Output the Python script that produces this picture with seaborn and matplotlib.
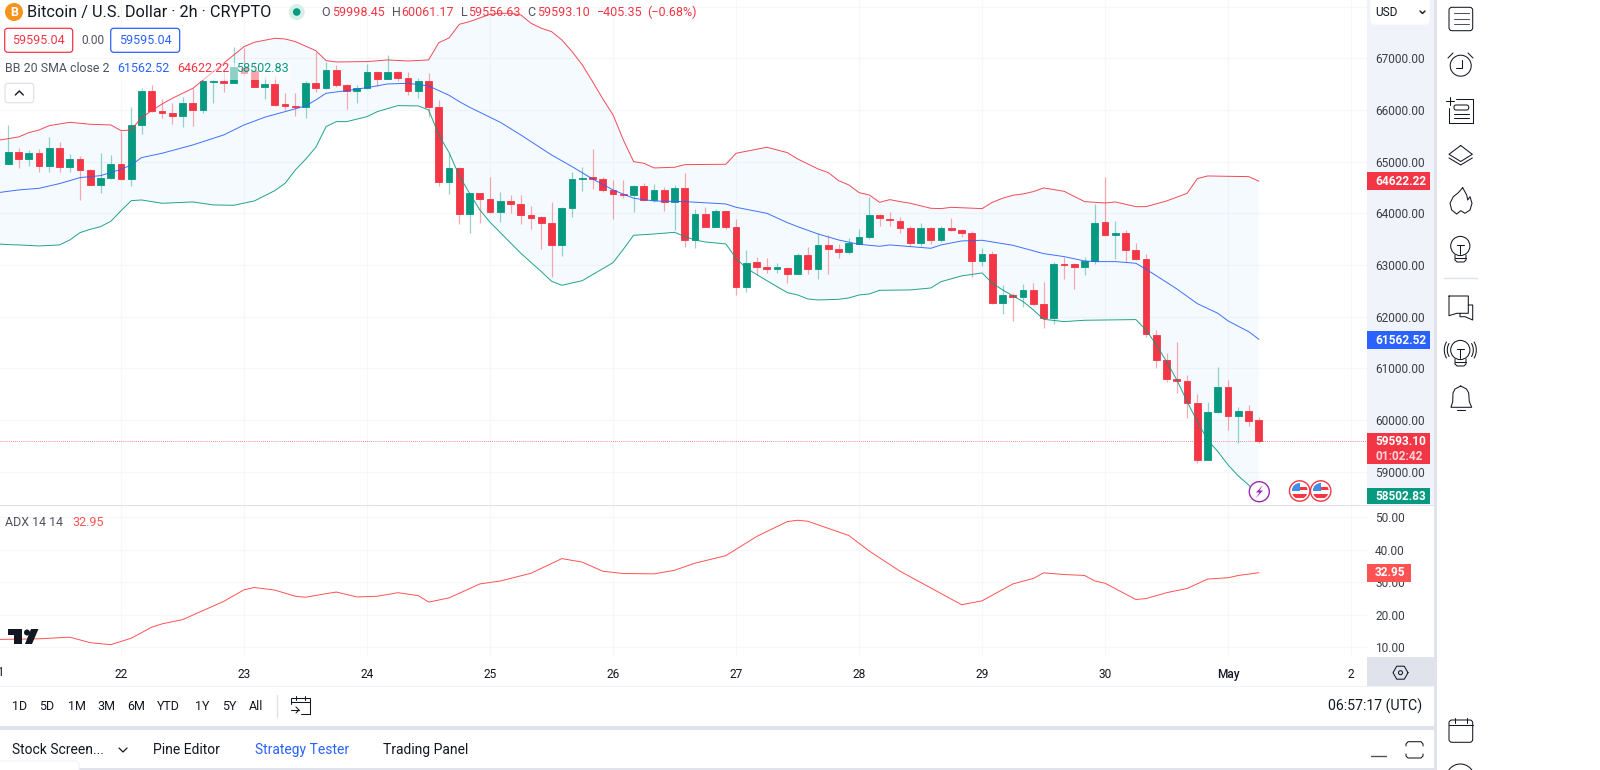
import matplotlib
matplotlib.use('Agg')
import matplotlib.pyplot as plt
import numpy as np
import seaborn as sns
from matplotlib.patches import Circle, FancyBboxPatch, Polygon, Rectangle

# Candles, one per 2 hours
opens = [64962, 65194, 65045, 65168, 64923, 65258, 64897, 65052, 64839, 64555, 64678, 64962, 64658, 65710, 66374,
         65987, 65942, 65884, 66129, 65994, 66548, 66555, 66529, 66807, 66761, 66452, 66503, 66110, 66078, 66065,
         66529, 66426, 66774, 66490, 66368, 66426, 66736, 66607, 66736, 66626, 66374, 66568, 66052, 64613, 64884,
         63981, 64387, 64284, 64026, 64239, 64181, 63975, 63923, 63813, 63381, 64097, 64665, 64697, 64671, 64452,
         64374, 64355, 64529, 64258, 64452, 64226, 64491, 63484, 63987, 63742, 64045, 63742, 62568, 63059, 62955,
         62929, 62949, 62833, 63187, 62917, 63381, 63316, 63258, 63413, 63542, 63975, 63897, 63858, 63710, 63426,
         63723, 63478, 63710, 63678, 63613, 63078, 63207, 62271, 62426, 62381, 62510, 62239, 61981, 63013, 63013,
         62955, 63071, 63826, 63581, 63613, 63297, 63110, 61652, 61168, 60788, 60762, 60336, 59233, 60156, 60639,
         60078, 60181, 59998.45]
closes = [65194, 65045, 65168, 64923, 65258, 64897, 65052, 64839, 64555, 64678, 64962, 64658, 65710, 66374, 65987,
          65942, 65884, 66129, 65994, 66555, 66561, 66529, 66826, 66723, 66452, 66503, 66103, 66078, 66065, 66529,
          66426, 66774, 66484, 66361, 66426, 66736, 66607, 66736, 66619, 66374, 66568, 66052, 64613, 64884, 63981,
          64387, 64284, 64026, 64239, 64181, 63975, 63916, 63813, 63381, 64097, 64665, 64691, 64671, 64452, 64374,
          64349, 64529, 64258, 64452, 64226, 64491, 63484, 63987, 63742, 64045, 63742, 62568, 63046, 62962, 62929,
          62955, 62833, 63187, 62917, 63381, 63316, 63258, 63433, 63542, 63975, 63903, 63865, 63710, 63426, 63723,
          63478, 63710, 63678, 63620, 63078, 63207, 62271, 62426, 62381, 62510, 62239, 61981, 63013, 63000, 62955,
          63071, 63820, 63581, 63613, 63297, 63110, 61659, 61168, 60788, 60762, 60336, 59233, 60156, 60639, 60078,
          60181, 59988, 59593.10]
highs = [65710, 65258, 65226, 65239, 65471, 65387, 65149, 65110, 64852, 65161, 65129, 65600, 66065, 66419, 66484,
         66213, 66129, 66258, 66419, 66581, 66581, 66740, 67226, 67194, 66936, 66632, 66658, 66323, 66336, 66568,
         67129, 66923, 66871, 66503, 66484, 66890, 66761, 67065, 66761, 66742, 66613, 66723, 66194, 65174, 64903,
         64400, 64400, 64697, 64420, 64349, 64349, 64149, 63949, 64226, 64129, 64807, 64891, 65239, 64697, 64645,
         64645, 64549, 64581, 64562, 64516, 64549, 64787, 64084, 64129, 64084, 64052, 63884, 63291, 63149, 63129,
         63033, 62968, 63226, 63355, 63613, 63581, 63400, 63517, 63697, 64323, 63987, 64020, 63936, 63755, 63820,
         63742, 63755, 63903, 63704, 63665, 63336, 63271, 62607, 62452, 62633, 62646, 62671, 63065, 63162, 63033,
         63149, 64181, 64697, 63858, 63678, 63433, 63213, 61742, 61304, 61510, 60872, 60497, 60355, 61026, 60775,
         60246, 60291, 60061.17]
lows = [64955, 64871, 64923, 64807, 64807, 64807, 64807, 64258, 64542, 64387, 64665, 64645, 64529, 65536, 65968,
        65839, 65729, 65665, 65691, 65936, 66142, 66355, 66516, 66658, 66439, 66213, 66078, 66000, 65884, 65839,
        66355, 66400, 66439, 66013, 66142, 66400, 66465, 66594, 66568, 66290, 66226, 65858, 64529, 64368, 63794,
        63613, 63820, 64000, 63826, 64000, 63794, 63697, 63310, 62762, 63181, 63936, 64439, 64465, 64420, 63891,
        64291, 64026, 64239, 64220, 64052, 63678, 63342, 63323, 63729, 63729, 63691, 62413, 62478, 62807, 62839,
        62852, 62646, 62820, 62826, 62723, 62826, 63129, 63207, 63400, 63510, 63762, 63762, 63626, 63368, 63368,
        63407, 63452, 63665, 63536, 62775, 62981, 62239, 62052, 61923, 62194, 62220, 61788, 61859, 62729, 62530,
        62800, 63020, 63562, 63110, 63065, 63097, 61613, 61007, 60730, 60530, 60046, 59175, 59227, 60143, 59807,
        59549, 59885, 59556.63]

# Bollinger bands: candle numbers and values where the lines bend
upper_idx = [-1, 0, 1, 2, 3, 4, 6, 8, 10, 11, 12, 13, 14, 15, 16, 18, 19, 22, 23, 24, 26, 27, 28, 30, 31, 32, 35, 37,
             39, 41, 42, 43, 44, 45, 47, 48, 49, 50, 51, 52, 53, 54, 55, 56, 57, 58, 59, 60, 61, 62, 63, 65, 66,
             70, 71, 74, 76, 77, 79, 80, 81, 82, 83, 84, 85, 86, 87, 88, 90, 91, 92, 95, 96, 97, 98, 99, 100, 101,
             103, 105, 107, 108, 110, 111, 113, 115, 116, 117, 119, 121, 122]
upper_band = [65413, 65445, 65478, 65561, 65613, 65697, 65761, 65723, 65710, 65600, 65613, 65858, 65987, 66116, 66226,
              66419, 66581, 67065, 67226, 67310, 67387, 67374, 67323, 67148, 66955, 66929, 66936, 66968, 66948,
              66968, 67303, 67394, 67658, 67710, 67852, 67871, 67871, 67839, 67677, 67581, 67516, 67355, 67129,
              66871, 66548, 66213, 65903, 65420, 65000, 64968, 64878, 64891, 64942, 64949, 65162, 65278, 65174,
              65052, 64858, 64787, 64632, 64549, 64400, 64355, 64213, 64265, 64226, 64194, 64097, 64091, 64116,
              64091, 64213, 64291, 64349, 64375, 64420, 64491, 64426, 64226, 64200, 64220, 64129, 64129, 64239,
              64387, 64671, 64723, 64716, 64710, 64622.22]
middle_idx = [-1, 0, 1, 3, 5, 7, 9, 11, 12, 13, 15, 18, 21, 23, 25, 27, 29, 30, 31, 33, 35, 37, 39, 41, 43, 44, 45, 48,
              50, 53, 55, 57, 59, 61, 63, 66, 70, 71, 74, 76, 77, 79, 81, 83, 85, 86, 90, 91, 93, 95, 98, 101, 103,
              105, 106, 108, 110, 111, 113, 114, 116, 118, 119, 121, 122]
middle_band = [64400, 64426, 64452, 64484, 64575, 64691, 64729, 64852, 64936, 65078, 65162, 65323, 65516, 65710, 65858,
               65968, 66078, 66194, 66323, 66374, 66432, 66503, 66516, 66465, 66284, 66161, 66052, 65761, 65516,
               65129, 64903, 64665, 64452, 64291, 64239, 64226, 64181, 64116, 64000, 63820, 63742, 63600, 63484,
               63400, 63362, 63388, 63323, 63388, 63465, 63478, 63381, 63220, 63162, 63078, 63065, 63065, 63033,
               62917, 62665, 62536, 62252, 62065, 61917, 61710, 61562.52]
lower_idx = [-1, 0, 1, 3, 5, 6, 7, 8, 9, 10, 11, 12, 13, 15, 18, 20, 22, 24, 26, 27, 28, 29, 30, 31, 32, 33, 35, 36, 38,
             40, 41, 42, 43, 44, 45, 46, 47, 50, 52, 53, 54, 56, 59, 60, 61, 63, 65, 66, 67, 68, 70, 71, 72, 74, 76,
             77, 78, 79, 81, 82, 83, 84, 85, 88, 90, 91, 93, 95, 96, 97, 99, 100, 101, 103, 105, 110, 111, 112, 113,
             114, 115, 116, 117, 118, 119, 120, 121, 122]
lower_band = [63407, 63394, 63388, 63368, 63388, 63484, 63626, 63691, 63742, 63845, 64052, 64245, 64258, 64194, 64220,
              64162, 64155, 64239, 64439, 64581, 64839, 65045, 65278, 65678, 65774, 65774, 65871, 65968, 66084,
              66078, 66000, 65516, 65174, 64723, 64387, 64065, 63826, 63226, 62871, 62684, 62607, 62697, 63046,
              63304, 63575, 63600, 63632, 63549, 63484, 63445, 63407, 63129, 62936, 62697, 62465, 62420, 62342,
              62323, 62336, 62362, 62420, 62439, 62510, 62517, 62555, 62678, 62788, 62846, 62646, 62517, 62291,
              62130, 61949, 61904, 61930, 61943, 61742, 61452, 61130, 60775, 60356, 59968, 59614, 59388, 59130,
              58917, 58743, 58502.83]

# ADX line
adx_idx = [-1, 3, 6, 8, 10, 12, 14, 15, 17, 19, 21, 23, 24, 26, 28, 29, 31, 32, 34, 36, 38, 40, 41, 43, 46, 48, 51,
           54, 56, 58, 60, 63, 65, 67, 70, 73, 76, 77, 78, 80, 82, 84, 87, 93, 95, 98, 100, 101, 103, 105, 106, 107,
           110, 111, 113, 115, 117, 119, 120, 122]
adx_values = [12.4, 12.6, 13.1, 11.4, 10.8, 12.8, 16.2, 17.2, 18.5, 21.3, 24.1, 27.7, 28.4, 27.6, 25.7, 25.4, 26.5,
              27.0, 25.5, 25.7, 26.8, 25.9, 23.9, 25.2, 29.5, 30.4, 32.8, 37.3, 36.2, 33.4, 32.7, 32.6, 33.7, 35.9,
              38.2, 44.1, 48.7, 49.1, 48.8, 46.6, 44.4, 39.6, 33.4, 23.1, 24.3, 29.5, 31.2, 32.9, 32.4, 32.1, 30.4,
              29.7, 24.7, 25.0, 26.8, 28.1, 31.0, 31.4, 32.1, 32.95]

# Axis ticks
price_ticks = [59000, 60000, 61000, 62000, 63000, 64000, 65000, 66000, 67000]
adx_ticks = [10, 20, 30, 40, 50]
day_idx = [11, 23, 35, 47, 59, 71, 83, 95, 107, 119, 131]
day_labels = ['22', '23', '24', '25', '26', '27', '28', '29', '30', 'May', '2']

RED = '#f23645'
GREEN = '#089981'
BLUE = '#2962ff'
ADX_RED = '#ff5252'
INK = '#131722'
GREY = '#50535e'
GRID = '#f6f7f9'
PANEL = '#f0f3fa'
EDGE = '#e0e3eb'

sns.set_theme(style='white')
plt.rcParams['font.family'] = ['Roboto', 'DejaVu Sans']

W, H = 1600, 770
fig = plt.figure(figsize=(W / 100, H / 100), dpi=100, facecolor='white')


def pane(left, top, right, bottom):
    return fig.add_axes([left / W, 1 - bottom / H, (right - left) / W, (bottom - top) / H])


ax = pane(0, 0, 1367, 505)
ax_adx = pane(0, 505, 1367, 657)
ui = fig.add_axes([0, 0, 1, 1], zorder=5)
ui.set_xlim(0, W)
ui.set_ylim(H, 0)
ui.axis('off')

xlim = (-0.813, 132.55)

# Price pane
candle_x = np.arange(len(opens))
o = np.array(opens)
c = np.array(closes)
cols = [GREEN if b >= a else RED for a, b in zip(o, c)]

ax.fill(np.r_[upper_idx, lower_idx[::-1]], np.r_[upper_band, lower_band[::-1]],
        color='#2196f3', alpha=0.045, lw=0, zorder=1)
ax.hlines(59593.10, *xlim, color=RED, lw=0.6, ls=(0, (1, 1.5)), alpha=0.8, zorder=2)
ax.vlines(candle_x, lows, highs, colors=cols, lw=0.9, alpha=0.42, zorder=3)
ax.bar(candle_x, np.abs(c - o), bottom=np.minimum(o, c), width=0.66, color=cols, edgecolor=cols, lw=0.6, zorder=4)
sns.lineplot(x=upper_idx, y=upper_band, ax=ax, color=RED, lw=0.7, alpha=0.9, estimator=None, sort=False, legend=False, zorder=5)
sns.lineplot(x=middle_idx, y=middle_band, ax=ax, color=BLUE, lw=0.7, alpha=0.9, estimator=None, sort=False, legend=False, zorder=5)
sns.lineplot(x=lower_idx, y=lower_band, ax=ax, color=GREEN, lw=0.7, alpha=0.9, estimator=None, sort=False, legend=False, zorder=5)

ax.set_xlim(*xlim)
ax.set_ylim(58355, 68128)
ax.set_yticks(price_ticks + [68000])
ax.set_yticklabels([f'{t:.2f}' for t in price_ticks] + [''])
ax.set_xticks(day_idx)
ax.tick_params(axis='x', labelbottom=False, length=0)

# ADX pane
sns.lineplot(x=adx_idx, y=adx_values, ax=ax_adx, color=ADX_RED, lw=0.7, estimator=None, sort=False, legend=False)
ax_adx.set_xlim(*xlim)
ax_adx.set_ylim(7.0, 53.8)
ax_adx.set_yticks(adx_ticks)
ax_adx.set_yticklabels([f'{t:.2f}' for t in adx_ticks])
ax_adx.set_xticks(day_idx)
ax_adx.set_xticklabels(day_labels)
ax_adx.tick_params(axis='x', length=0, pad=8, labelsize=8.6, labelcolor=INK)
ax_adx.get_xticklabels()[-2].set_fontweight('medium')

for a in (ax, ax_adx):
    a.set_xlabel('')
    a.set_ylabel('')
    a.set_facecolor('white')
    a.yaxis.tick_right()
    a.tick_params(axis='y', length=0, pad=5.8, labelsize=8.6, labelcolor='#3c3f48')
    a.grid(True, color=GRID, lw=0.8)
    a.set_axisbelow(True)
    sns.despine(ax=a, left=True, right=True, top=True, bottom=True)


# Page chrome, drawn in pixels
def rect(x0, y0, x1, y1, color, zorder=0, **kw):
    fig.add_artist(Rectangle((x0 / W, 1 - y1 / H), (x1 - x0) / W, (y1 - y0) / H, color=color, lw=0,
                             transform=fig.transFigure, zorder=zorder, **kw))


def box(x0, y0, x1, y1, face='white', edge=EDGE, lw=0.9, r=3, zorder=2):
    ui.add_patch(FancyBboxPatch((x0 + r, y0 + r), x1 - x0 - 2 * r, y1 - y0 - 2 * r, boxstyle=f'round,pad={r},rounding_size={r}',
                                fc=face, ec=edge, lw=lw, zorder=zorder))


def text(x, y, s, color=INK, size=8.6, ha='left', weight='normal', zorder=6):
    ui.text(x, y, s, color=color, fontsize=size, ha=ha, va='center', fontweight=weight, zorder=zorder, clip_on=False)


def stroke(pts, color=INK, lw=0.75, closed=False):
    pts = np.array(pts + pts[:1] if closed else pts, dtype=float)
    ui.plot(pts[:, 0], pts[:, 1], color=color, lw=lw, solid_capstyle='round', solid_joinstyle='round', zorder=6)


def arc(cx, cy, r, a0, a1, **kw):
    t = np.radians(np.linspace(a0, a1, 40))
    stroke(list(zip(cx + r * np.cos(t), cy + r * np.sin(t))), **kw)


def ring(cx, cy, r, color=INK, lw=0.75, face='none'):
    ui.add_patch(Circle((cx, cy), r, fc=face, ec=color, lw=lw, zorder=6))


def pill(y0, y1, s, color, x1=1430):
    ui.add_patch(Rectangle((1367, y0), x1 - 1367, y1 - y0, color=color, lw=0, zorder=3))
    text(1375, (y0 + y1) / 2, s, color='white', weight='bold')


# Axis strips and separators
rect(1367, 0, 1434, 505, PANEL, zorder=-1)
rect(1367, 657, 1434, 686, EDGE, zorder=-1)
rect(1434, 0, 1437, 770, EDGE, zorder=-1)
rect(0, 504.5, 1434, 506, EDGE, zorder=3)
rect(0, 686, 1434, 687, PANEL, zorder=-1)
rect(0, 726, 1434, 730, EDGE, zorder=-1)
rect(0, 768, 1434, 770, EDGE, zorder=-1)

# Legend area over the candles
ui.add_patch(Rectangle((0, 63), 290, 17, color='white', alpha=0.55, lw=0, zorder=1))

# Header
ring(14, 12, 9, color='#f7931a', face='#f7931a', lw=0)
text(14, 12, 'B', color='white', size=9, ha='center', weight='bold')
text(27, 12, 'Bitcoin / U.S. Dollar · 2h · CRYPTO', size=11.7)
ring(296.7, 12, 8, color='#d6efe9', face='#d6efe9', lw=0)
ring(296.7, 12, 3.8, color=GREEN, face=GREEN, lw=0)
for x, s, col in [(321.7, 'O', GREY), (332, '59998.45', RED), (391.7, 'H', GREY), (401, '60061.17', RED),
                  (460.7, 'L', GREY), (468, '59556.63', RED), (527.7, 'C', GREY), (536.7, '59593.10', RED),
                  (596.7, '−405.35', RED), (646.7, '(−0.68%)', RED)]:
    text(x, 12, s, color=col, size=9)
box(4.7, 28.3, 72.7, 52.3, edge=RED)
text(38.7, 40.5, '59595.04', color=RED, size=9, ha='center')
text(81, 40.5, '0.00', color=GREY, size=8.6)
box(110.7, 28.3, 179.7, 52.3, edge=BLUE)
text(145.2, 40.5, '59595.04', color=BLUE, size=9, ha='center')
text(5, 69, 'BB 20 SMA close 2', color=GREY, size=8.9)
text(117, 69, '61562.52', color=BLUE, size=9)
text(177, 69, '64622.22', color=RED, size=9)
text(236, 69, '58502.83', color=GREEN, size=9)
box(5, 83.3, 33.7, 102.7)
stroke([(15.3, 95), (19.3, 91), (23.3, 95)], lw=1)
text(5, 522.3, 'ADX 14 14', color=GREY, size=8.9)
text(72, 522.3, '32.95', color=ADX_RED, size=9)

# Price scale widgets
box(1371, -6, 1429, 24, edge='white', r=4)
text(1375, 12, 'USD', size=8.6)
stroke([(1420, 11), (1422.5, 13.5), (1425, 11)], lw=1)
pill(172.3, 190.3, '64622.22', RED)
pill(331, 349, '61562.52', BLUE)
pill(432.7, 464.3, '', RED)
text(1375, 441.5, '59593.10', color='white', weight='bold')
text(1375, 456, '01:02:42', color='#fbd5d9', weight='bold')
pill(487.7, 504.3, '58502.83', GREEN)
pill(564, 581.7, '32.95', ADX_RED, x1=1411)

# Time scale
text(-2, 672.7, '21', ha='center')
hexa = np.radians(np.arange(0, 360, 60))
stroke(list(zip(1400.5 + 7.5 * np.cos(hexa), 672.7 + 7.5 * np.sin(hexa))), closed=True)
ring(1400.5, 672.7, 2)

# Event markers
ring(1259.3, 491.7, 10, color='#9c27b0', face='white', lw=1)
ui.add_patch(Polygon([(1263, 485), (1256, 492.5), (1259.5, 492.5), (1255.5, 498.5), (1263, 490.5), (1259.5, 490.5)],
                     color='#9c27b0', lw=0, zorder=7))
for cx in (1299.7, 1320.7):
    ring(cx, 491, 10.2, color=RED, face='white', lw=1)
    clip = Circle((cx, 491), 8, transform=ui.transData)
    for y0, y1, col, x0, x1 in [(483, 491, '#3f8ee8', cx - 8, cx), (487, 490, RED, cx, cx + 8), (494, 498, RED, cx - 8, cx + 8)]:
        patch = Rectangle((x0, y0), x1 - x0, y1 - y0, color=col, lw=0, zorder=7)
        ui.add_patch(patch)
        patch.set_clip_path(clip)

# TradingView mark
ui.add_patch(Polygon([(8, 629), (22, 629), (22, 644), (14, 644), (14, 635), (8, 635)], color=INK, lw=0, zorder=6))
ring(27, 632.5, 3, color=INK, face=INK, lw=0)
ui.add_patch(Polygon([(31, 629), (38.5, 629), (32, 644), (25, 644)], color=INK, lw=0, zorder=6))

# Range bar
for x, s in [(11.7, '1D'), (39, '5D'), (68, '1M'), (97, '3M'), (127, '6M'), (157, 'YTD'), (195, '1Y'), (222, '5Y'), (249, 'All')]:
    text(x, 706.7, s, size=9)
stroke([(277, 695), (277, 717)], color=EDGE, lw=1)
stroke([(291, 704), (291, 698), (310, 698), (310, 714), (301, 714)])
stroke([(291, 702), (310, 702)])
stroke([(296, 696), (296, 700)])
stroke([(305, 696), (305, 700)])
stroke([(291, 710), (299, 710)])
stroke([(296, 707), (299, 710), (296, 713)])
text(1327.7, 706, '06:57:17 (UTC)', size=10.2)

# Bottom tabs
text(12, 750, 'Stock Screen...', size=10)
stroke([(119, 748), (123, 752), (127, 748)], lw=0.9)
text(152.7, 750, 'Pine Editor', size=10)
text(255, 750, 'Strategy Tester', color=BLUE, size=10)
text(383, 750, 'Trading Panel', size=10)
stroke([(1371, 755.7), (1386, 755.7)], color=GREY, lw=1)
stroke([(1406, 746), (1406, 744), (1408, 741.7), (1421, 741.7), (1423, 744), (1423, 746)])
stroke([(1406, 754), (1406, 756), (1408, 758), (1421, 758), (1423, 756), (1423, 754)])
box(-6, 761, 79, 780, edge=PANEL, r=4)

# Right toolbar
box(1449, 7.3, 1472.7, 30.7, face='none', edge=INK, lw=0.75, zorder=6)
for y in (13.3, 18.7, 24):
    stroke([(1453.5, y), (1468.5, y)], color=GREY)
ring(1460.7, 65.7, 10.5)
stroke([(1461.7, 60), (1461.7, 68), (1456, 68)])
stroke([(1448, 58), (1453, 53)])
stroke([(1468, 53), (1473, 58)])
stroke([(1449, 108), (1449, 122.7), (1472.7, 122.7), (1472.7, 99), (1456, 99)])
stroke([(1450, 97), (1450, 105)])
stroke([(1446, 101), (1454, 101)])
box(1454, 105, 1468.7, 110, face='none', edge=INK, lw=0.75, r=2, zorder=6)
stroke([(1454, 113.5), (1468.7, 113.5)])
stroke([(1454, 118), (1468.7, 118)])
stroke([(1460.7, 145.5), (1472.3, 154.3), (1460.7, 161.5), (1449, 154.3)], closed=True)
stroke([(1449, 158), (1460.7, 165), (1472.3, 158)])
stroke([(1462.7, 187.7), (1466.7, 195), (1467.7, 200), (1470, 196.7), (1472, 203.3), (1470, 210), (1465, 213.3),
        (1460.7, 210.7), (1456.7, 214), (1451.7, 210), (1450, 203.3), (1453.3, 196.7), (1458.3, 192.7)], closed=True)
for cy in (246, 350):
    ring(1460.3, cy, 9.6)
    stroke([(1457, cy - 1), (1464, cy - 1)])
    stroke([(1460.3, cy - 1), (1460.3, cy + 8)])
    stroke([(1455, cy + 9), (1455, cy + 14), (1457, cy + 16), (1464, cy + 16), (1466, cy + 14), (1466, cy + 9)])
    stroke([(1455, cy + 12), (1466, cy + 12)])
stroke([(1444, 278), (1477, 278)], color=EDGE, lw=1)
stroke([(1449, 296), (1468.3, 296), (1468.3, 313.3), (1456.7, 313.3), (1449, 315.7)], closed=True)
stroke([(1468.3, 305), (1472.7, 305), (1472.7, 320), (1465, 316.7), (1460, 316.7), (1460, 313.3)])
for r in (13, 16):
    arc(1460.3, 350, r, 150, 210)
    arc(1460.3, 350, r, -30, 30)
stroke([(1460.7, 386), (1455, 389), (1453, 393), (1452.7, 401.7), (1451, 407.3), (1471.7, 407.3), (1469.3, 401.7),
        (1468.7, 393), (1466.5, 389)], closed=True)
stroke([(1457, 410), (1464.5, 410)])
box(1449, 720, 1472.7, 742.3, face='none', edge=INK, lw=0.75, zorder=6)
stroke([(1449, 725), (1472.7, 725)])
for x in (1454.5, 1467):
    stroke([(x, 718), (x, 723)])
ring(1460.3, 778, 14)

fig.savefig('out.png', dpi=100, facecolor='white')
